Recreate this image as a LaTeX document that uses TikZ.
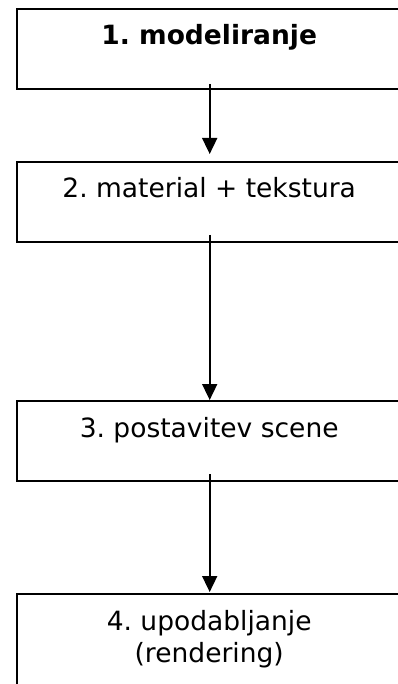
\documentclass[tikz,border=0pt]{standalone}
\usepackage{fontspec}
\setmainfont{DejaVu Sans}
\usetikzlibrary{arrows.meta,calc}
\frenchspacing
\begin{document}
\begin{tikzpicture}[x=1pt,y=1pt,
  stagebox/.style={draw=black,line width=2pt,rectangle,minimum width=384pt,minimum height=80pt,inner sep=0pt,anchor=north west},
  stagetext/.style={anchor=base,inner sep=0pt,align=center,font=\fontsize{26.5}{32}\selectfont},
  flow/.style={line width=1.7pt,-{Triangle[length=16pt,width=15pt]}}]
\useasboundingbox (0,0) rectangle (398,-684);
\clip (0,0) rectangle (398,-684);
\node[stagebox] (b1) at (16.2,-8) {};
\node[stagebox] (b2) at (16.2,-161) {};
\node[stagebox] (b3) at (16.2,-400) {};
\node[stagebox,minimum height=110pt] (b4) at (16.2,-593) {};
\node[stagetext] (t1) at ($(b1.north)+(0,-37)$) {\textbf{1. modeliranje}};
\node[stagetext] (t2) at ($(b2.north)+(0,-37)$) {2. material + tekstura};
\node[stagetext] (t3) at ($(b3.north)+(0,-37)$) {3. postavitev scene};
\node[stagetext,anchor=north] (t4) at ($(b4.north)+(0,-17)$) {4. upodabljanje\\(rendering)};
\draw[flow] ($(b1.south)+(0.5,6)$) -- ($(b2.north)+(0.5,7)$);
\draw[flow] ($(b2.south)+(0.5,8)$) -- ($(b3.north)+(0.5,0)$);
\draw[flow] ($(b3.south)+(0.5,8)$) -- ($(b4.north)+(0.5,1)$);
\end{tikzpicture}
\end{document}
